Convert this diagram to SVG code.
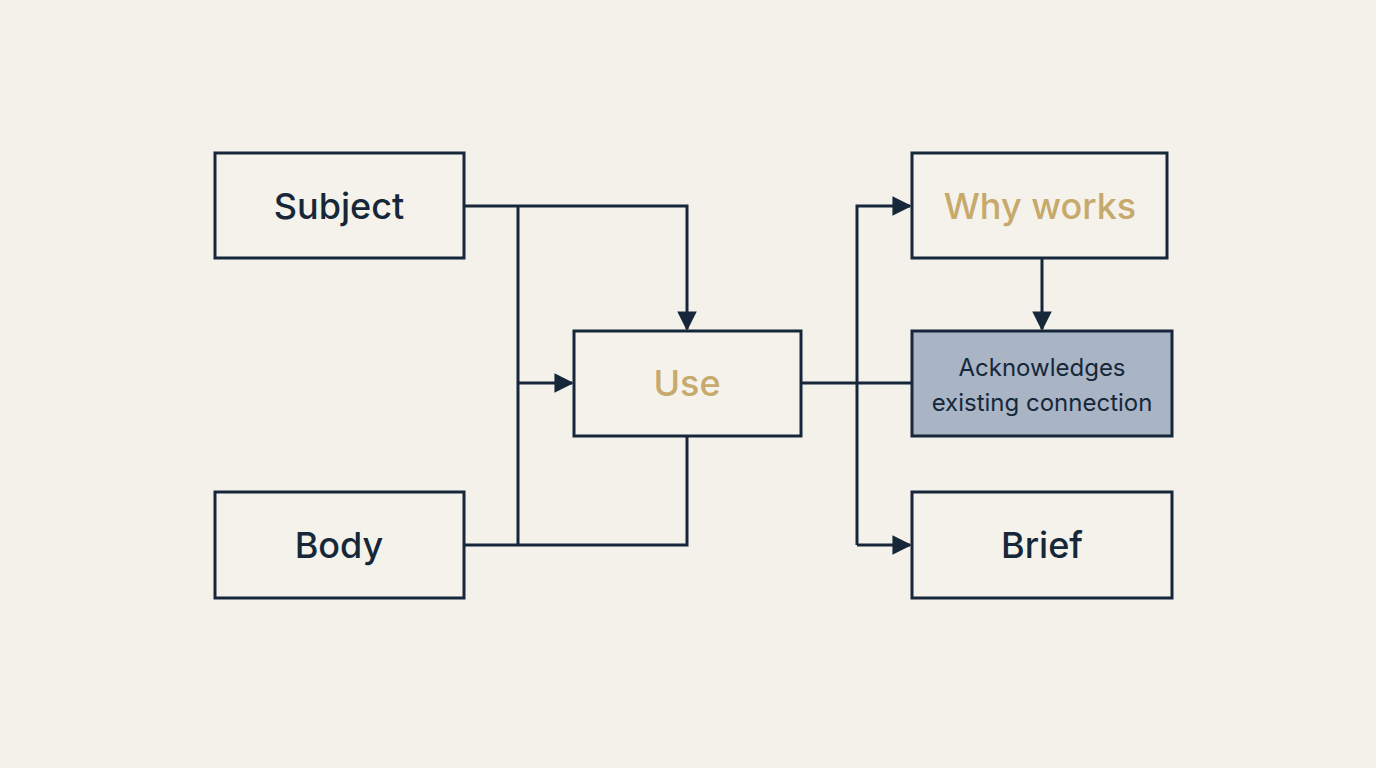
<svg xmlns="http://www.w3.org/2000/svg" width="1376" height="768" viewBox="0 0 1376 768">
<style>
.b{fill:#f4f2eb;stroke:#16273a;stroke-width:3}
.t{font-family:Inter,"Liberation Sans",sans-serif;font-size:36px;font-weight:500;fill:#16273a;text-anchor:middle;dominant-baseline:central}
.g{fill:#c6a96b}
.s{font-size:24px;font-weight:400}
.c{fill:none;stroke:#16273a;stroke-width:3}
</style>
<defs><marker id="a" viewBox="0 0 10 10" refX="9" refY="5" markerWidth="6.5" markerHeight="6.5" orient="auto" markerUnits="strokeWidth"><path d="M0,0L10,5L0,10z" fill="#16273a"/></marker></defs>
<rect width="1376" height="768" fill="#f3f1ea"/>
<g id="connectors">
<path class="c" d="M464,206H687V329" marker-end="url(#a)"/>
<path class="c" d="M518,206V545"/>
<path class="c" d="M518,383H572" marker-end="url(#a)"/>
<path class="c" d="M464,545H687V436"/>
<path class="c" d="M801,383H912"/>
<path class="c" d="M857,545V206H910" marker-end="url(#a)"/>
<path class="c" d="M857,545H910" marker-end="url(#a)"/>
<path class="c" d="M1042,258V329" marker-end="url(#a)"/>
</g>
<g id="subject"><rect class="b" x="215" y="153" width="249" height="105"/><text class="t" x="339" y="206">Subject</text></g>
<g id="body"><rect class="b" x="215" y="492" width="249" height="106"/><text class="t" x="339" y="545">Body</text></g>
<g id="use"><rect class="b" x="574" y="331" width="227" height="105"/><text class="t g" x="687" y="383">Use</text></g>
<g id="why"><rect class="b" x="912" y="153" width="255" height="105"/><text class="t g" x="1040" y="206">Why works</text></g>
<g id="ack"><rect class="b" x="912" y="331" width="260" height="105" style="fill:#a9b5c5"/><text class="t s" x="1042" y="367">Acknowledges</text><text class="t s" x="1042" y="402">existing connection</text></g>
<g id="brief"><rect class="b" x="912" y="492" width="260" height="106"/><text class="t" x="1042" y="545">Brief</text></g>
</svg>
